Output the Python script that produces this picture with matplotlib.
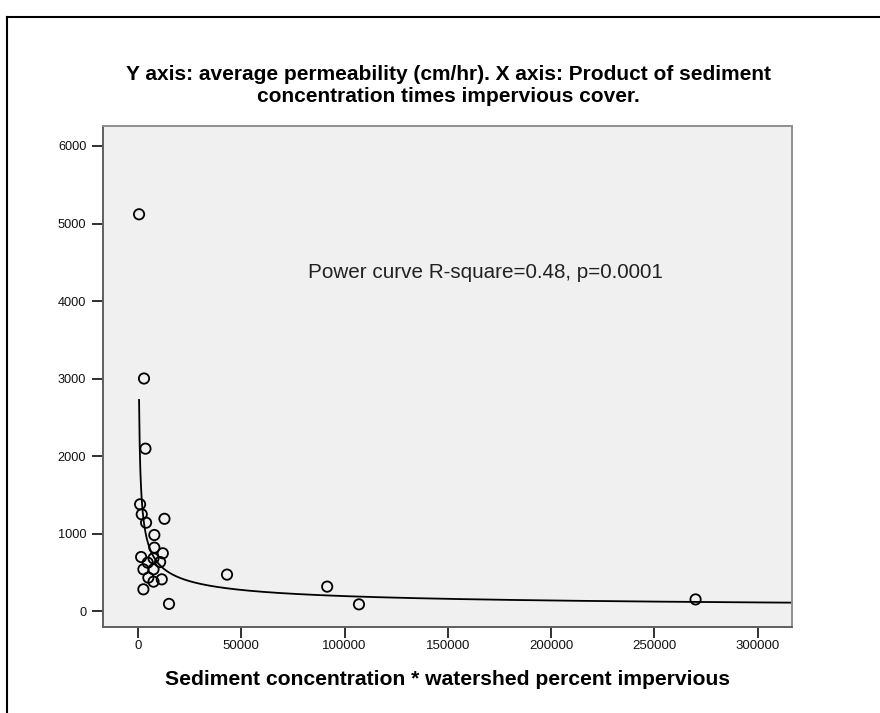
import numpy as np
import matplotlib
matplotlib.use("Agg")
import matplotlib.pyplot as plt
from matplotlib.lines import Line2D

plt.rcParams['font.family'] = ['Liberation Sans', 'DejaVu Sans']

# Product of sediment concentration and watershed percent impervious cover
x_vals = [500, 2900, 3600, 1000, 1800, 3900, 12800, 7900, 7900, 12000,
          1500, 4700, 7500, 10700, 2600, 7500, 5000, 7500, 11500, 2600,
          15000, 43100, 91600, 107000, 270000]
# Average permeability (cm/hr)
y_vals = [5119, 3000, 2095, 1377, 1248, 1140, 1190, 981, 818, 745,
          697, 624, 680, 632, 538, 538, 431, 379, 409, 280,
          92, 470, 315, 86, 150]

# Fitted power curve y = a * x^b
fit_a = 60900.0
fit_b = -0.5

x_ticks = [0, 50000, 100000, 150000, 200000, 250000, 300000]
y_ticks = [0, 1000, 2000, 3000, 4000, 5000, 6000]

title_lines = ["Y axis: average permeability (cm/hr). X axis: Product of sediment",
               "concentration times impervious cover."]
x_label = "Sediment concentration * watershed percent impervious"
note = "Power curve R-square=0.48, p=0.0001"

fig = plt.figure(figsize=(8.8, 7.13), dpi=100, facecolor='white')
ax_left, ax_right, ax_top, ax_bottom = 103, 792, 126, 627
ax = fig.add_axes([ax_left / 880, 1 - ax_bottom / 713,
                   (ax_right - ax_left) / 880, (ax_bottom - ax_top) / 713])
ax.set_facecolor('#f0f0f0')

xs = np.linspace(min(x_vals), 316700, 2000)
ax.plot(xs, fit_a * xs ** fit_b, color='black', lw=1.3, zorder=2)
ax.scatter(x_vals, y_vals, s=55, facecolors='none', edgecolors='black',
           linewidths=1.3, zorder=3)

ax.set_xlim(-16960, 316700)
ax.set_ylim(-206, 6258)
ax.set_xticks(x_ticks)
ax.set_yticks(y_ticks)
ax.set_xticklabels([str(t) for t in x_ticks])
ax.set_yticklabels([str(t) for t in y_ticks])
ax.tick_params(axis='both', direction='out', length=8, width=1.4,
               color='#303030', labelsize=9.5, labelcolor='#111111')
ax.tick_params(axis='x', pad=1.5)
ax.tick_params(axis='y', pad=4, labelsize=9.2)

for side, sp in ax.spines.items():
    sp.set_color('#606060' if side in ('left', 'bottom') else '#909090')
    sp.set_linewidth(1.4)

ax.text(82300, 4370, note, fontsize=14.9, va='center', ha='left', color='#222222')

ax.set_xlabel(x_label, fontsize=15.2, fontweight='bold', labelpad=13)

# two-line title, each line placed on its own baseline row
for row, (line, ypix) in enumerate(zip(title_lines, [75, 96])):
    fig.text(0.5095, 1 - ypix / 713, line, fontsize=15, fontweight='bold',
             ha='center', va='center')

# frame around the chart
fig.add_artist(Line2D([7 / 880, 1.0], [1 - 17 / 713, 1 - 17 / 713],
                      transform=fig.transFigure, color='black', lw=1.5))
fig.add_artist(Line2D([7 / 880, 7 / 880], [0.0, 1 - 17 / 713],
                      transform=fig.transFigure, color='black', lw=1.5))

fig.savefig('out.png', dpi=100, facecolor='white')
